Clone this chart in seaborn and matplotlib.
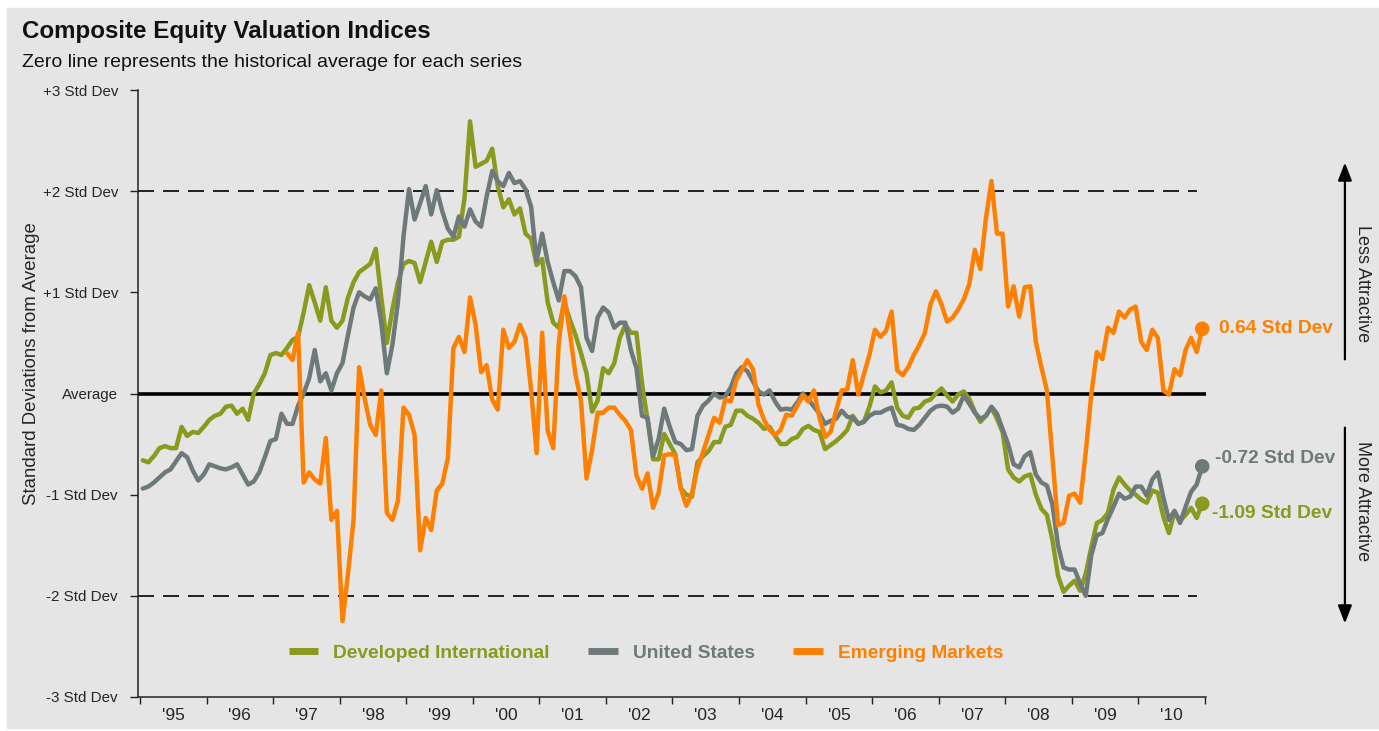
import pandas as pd
import matplotlib
matplotlib.use("Agg")
import matplotlib.pyplot as plt
from matplotlib.patches import Rectangle
from matplotlib.lines import Line2D
import seaborn as sns

# monthly readings, std devs from each series' historical average
# Developed International and United States: Jan 1995 - Dec 2010
developed_intl = [
    -0.66, -0.68, -0.62, -0.54, -0.52, -0.54, -0.54, -0.33, -0.42, -0.38, -0.39, -0.33,
    -0.26, -0.22, -0.20, -0.13, -0.12, -0.20, -0.15, -0.26, 0.00, 0.09, 0.20, 0.38,
    0.40, 0.38, 0.45, 0.53, 0.56, 0.80, 1.07, 0.90, 0.72, 1.05, 0.72, 0.65,
    0.72, 0.95, 1.10, 1.20, 1.24, 1.28, 1.43, 0.95, 0.50, 0.83, 1.10, 1.28,
    1.31, 1.29, 1.10, 1.30, 1.50, 1.30, 1.50, 1.52, 1.52, 1.55, 1.93, 2.69,
    2.24, 2.27, 2.30, 2.42, 2.05, 1.84, 1.92, 1.77, 1.83, 1.58, 1.53, 1.27,
    1.33, 0.90, 0.70, 0.65, 0.90, 0.73, 0.58, 0.40, 0.20, -0.18, -0.07, 0.25,
    0.20, 0.30, 0.55, 0.68, 0.60, 0.60, 0.10, -0.26, -0.65, -0.65, -0.40, -0.50,
    -0.60, -0.94, -1.00, -1.02, -0.68, -0.62, -0.57, -0.48, -0.48, -0.33, -0.31, -0.17,
    -0.17, -0.22, -0.25, -0.29, -0.35, -0.33, -0.42, -0.50, -0.50, -0.45, -0.43, -0.35,
    -0.32, -0.36, -0.38, -0.55, -0.51, -0.47, -0.42, -0.36, -0.22, -0.30, -0.28, -0.13,
    0.07, 0.01, 0.03, 0.11, -0.14, -0.22, -0.24, -0.15, -0.14, -0.08, -0.06, 0.00,
    0.05, -0.02, -0.08, -0.01, 0.02, -0.05, -0.18, -0.28, -0.22, -0.14, -0.25, -0.38,
    -0.75, -0.83, -0.87, -0.82, -0.80, -1.00, -1.14, -1.20, -1.45, -1.80, -1.96, -1.90,
    -1.85, -1.95, -1.78, -1.52, -1.28, -1.25, -1.18, -0.95, -0.83, -0.90, -0.96, -1.00,
    -1.05, -1.08, -0.96, -0.98, -1.22, -1.38, -1.17, -1.26, -1.20, -1.13, -1.23, -1.09,
]
united_states = [
    -0.94, -0.92, -0.88, -0.83, -0.78, -0.75, -0.67, -0.59, -0.63, -0.76, -0.86, -0.80,
    -0.70, -0.72, -0.74, -0.75, -0.73, -0.70, -0.80, -0.90, -0.87, -0.78, -0.63, -0.47,
    -0.45, -0.20, -0.30, -0.30, -0.12, 0.00, 0.15, 0.43, 0.12, 0.20, 0.03, 0.20,
    0.30, 0.58, 0.85, 1.00, 0.96, 0.93, 1.04, 0.70, 0.20, 0.48, 0.90, 1.55,
    2.02, 1.72, 1.88, 2.05, 1.77, 2.01, 1.80, 1.63, 1.55, 1.75, 1.65, 1.82,
    1.70, 1.65, 1.95, 2.20, 2.10, 2.05, 2.18, 2.08, 2.10, 2.02, 1.85, 1.31,
    1.58, 1.30, 1.10, 0.92, 1.21, 1.21, 1.16, 1.05, 0.55, 0.42, 0.75, 0.85,
    0.80, 0.65, 0.70, 0.70, 0.43, 0.25, -0.22, -0.24, -0.62, -0.45, -0.15, -0.33,
    -0.48, -0.50, -0.56, -0.55, -0.22, -0.12, -0.07, 0.00, -0.04, -0.03, 0.06, 0.20,
    0.26, 0.22, 0.12, 0.02, -0.01, 0.03, -0.08, -0.16, -0.15, -0.16, -0.09, 0.00,
    -0.06, -0.13, -0.20, -0.30, -0.27, -0.25, -0.17, -0.23, -0.24, -0.30, -0.28, -0.22,
    -0.19, -0.19, -0.16, -0.14, -0.31, -0.32, -0.35, -0.36, -0.31, -0.24, -0.17, -0.13,
    -0.12, -0.13, -0.19, -0.15, -0.02, -0.10, -0.19, -0.25, -0.22, -0.13, -0.20, -0.35,
    -0.50, -0.70, -0.73, -0.62, -0.58, -0.80, -0.88, -0.91, -1.10, -1.50, -1.72, -1.74,
    -1.74, -1.88, -2.00, -1.60, -1.40, -1.38, -1.24, -1.12, -0.99, -1.04, -1.02, -0.92,
    -0.92, -1.01, -0.85, -0.78, -1.03, -1.25, -1.16, -1.28, -1.12, -0.97, -0.90, -0.72,
]
# Emerging Markets: Mar 1997 - Dec 2010
emerging_markets = [
    0.40, 0.33, 0.60, -0.88, -0.78, -0.85, -0.89, -0.44, -1.25, -1.16,
    -2.25, -1.78, -1.25, 0.26, -0.05, -0.31, -0.41, 0.03, -1.18, -1.25, -1.06, -0.14,
    -0.21, -0.41, -1.55, -1.23, -1.35, -0.96, -0.89, -0.64, 0.45, 0.56, 0.41, 0.95,
    0.68, 0.21, 0.28, -0.06, -0.16, 0.63, 0.45, 0.51, 0.68, 0.55, 0.04, -0.59,
    0.60, -0.37, -0.54, 0.50, 0.96, 0.60, 0.19, -0.07, -0.84, -0.56, -0.19, -0.19,
    -0.14, -0.14, -0.21, -0.27, -0.36, -0.81, -0.94, -0.79, -1.13, -0.98, -0.61, -0.60,
    -0.61, -0.94, -1.11, -0.99, -0.74, -0.58, -0.41, -0.24, -0.29, -0.06, -0.08, 0.13,
    0.23, 0.33, 0.24, -0.11, -0.26, -0.36, -0.41, -0.36, -0.21, -0.22, -0.12, -0.02,
    -0.08, 0.03, -0.24, -0.43, -0.38, -0.17, 0.03, 0.04, 0.33, -0.01, 0.19, 0.38,
    0.63, 0.56, 0.62, 0.81, 0.23, 0.18, 0.26, 0.38, 0.48, 0.60, 0.88, 1.01,
    0.88, 0.71, 0.75, 0.83, 0.93, 1.08, 1.42, 1.23, 1.73, 2.10, 1.58, 1.58,
    0.86, 1.06, 0.76, 1.05, 1.06, 0.51, 0.26, 0.03, -0.64, -1.30, -1.28, -1.01,
    -0.99, -1.08, -0.58, -0.01, 0.41, 0.34, 0.65, 0.60, 0.81, 0.75, 0.83, 0.86,
    0.51, 0.43, 0.63, 0.55, 0.03, -0.01, 0.24, 0.18, 0.43, 0.55, 0.41, 0.64,
]
series_start = ["1995-01", "1995-01", "1997-03"]
series_names = ["Developed International", "United States", "Emerging Markets"]
series_colors = ["#8A9A1E", "#6E7A7A", "#FF8000"]
end_labels = ["-1.09 Std Dev", "-0.72 Std Dev", "0.64 Std Dev"]
year_ticks = list(range(1995, 2012))
year_labels = ["'95", "'96", "'97", "'98", "'99", "'00", "'01", "'02", "'03",
               "'04", "'05", "'06", "'07", "'08", "'09", "'10"]
std_ticks = [-3, -2, -1, 0, 1, 2, 3]
std_labels = ["-3 Std Dev", "-2 Std Dev", "-1 Std Dev", "Average",
              "+1 Std Dev", "+2 Std Dev", "+3 Std Dev"]

frames = []
for vals, start, name in zip([developed_intl, united_states, emerging_markets],
                             series_start, series_names):
    dates = pd.date_range(start, periods=len(vals), freq="MS")
    frames.append(pd.DataFrame({"year": dates.year + (dates.month - 0.5) / 12,
                                "value": vals, "series": name}))
df = pd.concat(frames, ignore_index=True)
last = df.groupby("series", sort=False).tail(1)

sns.set_theme(style="ticks")
plt.rcParams["font.family"] = ["Liberation Sans", "DejaVu Sans"]
bg = "#E4E5E4"

fig = plt.figure(figsize=(13.79, 7.31), dpi=100, facecolor="white")
fig.add_artist(Rectangle((7 / 1379, 3 / 731), 1 - 7 / 1379, 1 - 11 / 731,
                         transform=fig.transFigure, color=bg, zorder=-5))
ax = fig.add_axes([137.5 / 1379, 34 / 731, 1068.5 / 1379, 607 / 731])
ax.patch.set_alpha(0)

x0, x1 = 1995 - 2.5 / 66.6, 2011 + 1 / 66.6
ax.axhline(0, color="black", lw=2.6, zorder=1)
ax.hlines([2, -2], x0, 2010.88, colors="black", lw=1.2,
          linestyles=[(0, (9.6, 5.4))], zorder=1)

palette = dict(zip(series_names, series_colors))
sns.lineplot(data=df, x="year", y="value", hue="series", hue_order=series_names,
             palette=palette, linewidth=3.2, estimator=None, sort=False,
             legend=False, ax=ax, zorder=3)
sns.scatterplot(data=last, x="year", y="value", hue="series", hue_order=series_names,
                palette=palette, s=110, linewidth=0, legend=False, ax=ax,
                zorder=4, clip_on=False)

offsets = [(7, -7), (9, 6), (12, 0)]
for (_, row), lab, col, off in zip(last.iterrows(), end_labels, series_colors, offsets):
    ax.annotate(lab, (row["year"], row["value"]), xytext=off, textcoords="offset points",
                ha="left", va="center", color=col, fontsize=13.8, fontweight="bold",
                annotation_clip=False)

ax.set_xlim(x0, x1)
ax.set_ylim(-3, 3)
ax.set_yticks(std_ticks)
ax.set_yticklabels(std_labels, fontsize=10.9)
ax.set_xticks(year_ticks)
ax.set_xticklabels([])
ax.set_xticks([y + 0.5 for y in year_ticks[:-1]], minor=True)
ax.set_xticklabels(year_labels, minor=True, fontsize=12.5)
ax.tick_params(axis="x", which="major", direction="out", length=5, width=1, color="#222")
ax.tick_params(axis="x", which="minor", length=0, pad=8)
ax.tick_params(axis="y", direction="out", length=6, width=1, color="#222", pad=8)
ax.set_xlabel("")
ax.set_ylabel("Standard Deviations from Average", fontsize=13.4)
ax.yaxis.set_label_coords(-0.091, 0.549)
for s in ["top", "right"]:
    ax.spines[s].set_visible(False)
for s in ["left", "bottom"]:
    ax.spines[s].set_color("#222")
    ax.spines[s].set_linewidth(1.1)

handles = [Line2D([0], [0], color=c, lw=5, solid_capstyle="butt") for c in series_colors]
leg = ax.legend(handles, series_names, loc="center", bbox_to_anchor=(0.476, 0.072),
                ncol=3, frameon=False, handlelength=1.56, handletextpad=0.78,
                columnspacing=2.0, prop={"weight": "bold", "size": 13.8})
for t, c in zip(leg.get_texts(), series_colors):
    t.set_color(c)

# attractiveness arrows on the right
blend = ("axes fraction", "data")
arrow = dict(arrowstyle="-|>,head_length=0.9,head_width=0.35", color="black", lw=1.6)
ax.annotate("", xy=(1.13, 2.31), xytext=(1.13, 0.31), xycoords=blend,
            textcoords=blend, arrowprops=arrow)
ax.annotate("", xy=(1.13, -2.30), xytext=(1.13, -0.31), xycoords=blend,
            textcoords=blend, arrowprops=arrow)
ax.text(1.146, 1.09, "Less Attractive", transform=ax.get_yaxis_transform(),
        rotation=-90, ha="center", va="center", fontsize=13)
ax.text(1.146, -1.06, "More Attractive", transform=ax.get_yaxis_transform(),
        rotation=-90, ha="center", va="center", fontsize=13)

fig.text(22 / 1379, 1 - 38 / 731, "Composite Equity Valuation Indices",
         fontsize=17.4, fontweight="bold", va="baseline", color="#111")
fig.text(22 / 1379, 1 - 67 / 731, "Zero line represents the historical average for each series",
         fontsize=14, va="baseline", color="#111")

fig.savefig("out.png", dpi=100, facecolor=fig.get_facecolor())
